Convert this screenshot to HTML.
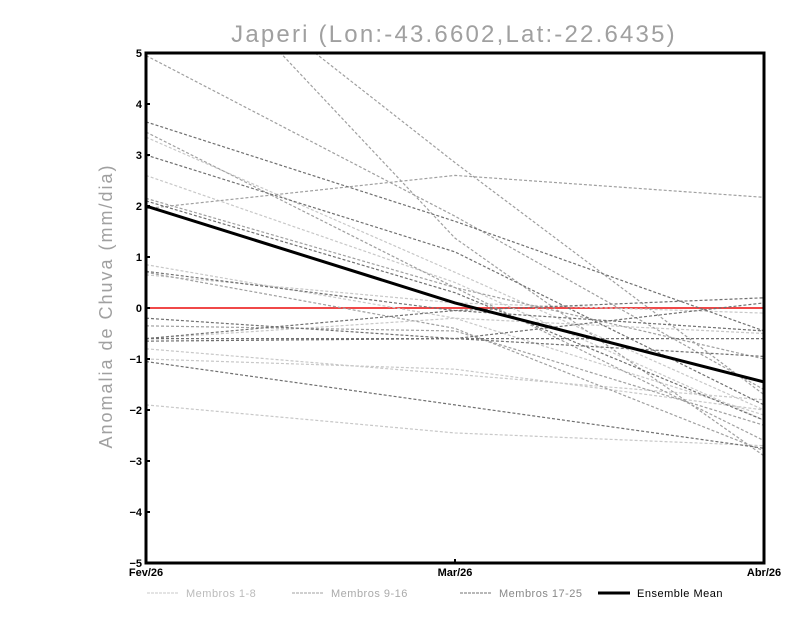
<!DOCTYPE html>
<html><head><meta charset="utf-8"><style>
body{margin:0;background:#fff;width:800px;height:618px;overflow:hidden}
svg{display:block}
</style></head><body>
<svg id="chart" width="800" height="618" font-family="Liberation Sans, sans-serif"></svg>
<script>
const categories=["Fev/26","Mar/26","Abr/26"];
const yTicks=[-5,-4,-3,-2,-1,0,1,2,3,4,5];
const g1=[[3.35,0.7,-2.0],[2.6,0.5,-2.2],[0.85,-0.2,-0.5],[-0.8,-1.3,-1.8],[-1.9,-2.45,-2.7],[0.65,0.1,-0.1],[-0.6,-0.2,-2.1],[-1.0,-1.2,-2.0]];
const g2=[[4.95,1.8,-1.6],[7.8,1.37,-2.9],[7.6,2.85,-1.7],[3.45,0.4,-2.6],[1.95,2.6,2.17],[-0.35,-0.45,-2.3],[0.7,-0.4,-2.8],[2.15,0.4,-1.0]];
const g3=[[3.65,1.7,-0.45],[3.0,1.1,-1.9],[0.72,-0.05,-0.45],[-0.6,-0.05,0.2],[-0.65,-0.6,-0.95],[-0.2,-0.6,0.1],[-1.05,-1.9,-2.75],[-0.6,-0.6,-0.6],[2.1,0.3,-2.2]];
const ensembleMean=[2.0,0.1,-1.45];
const NS="http://www.w3.org/2000/svg";
const svg=document.getElementById('chart');
const X0=146,X1=764,Y0=563,Y1=53;
const xs=i=>X0+(X1-X0)*i/(categories.length-1);
const ys=v=>Y0-(v+5)/10*(Y0-Y1);
function mk(tag,attrs,parent){const e=document.createElementNS(NS,tag);for(const k in attrs)e.setAttribute(k,attrs[k]);(parent||svg).appendChild(e);return e;}
const defs=mk('defs',{});const cp=mk('clipPath',{id:'clip'},defs);mk('rect',{x:X0,y:Y1,width:X1-X0,height:Y0-Y1},cp);
const title=mk('text',{x:454,y:42,'text-anchor':'middle','font-size':'24',fill:'#a0a0a0','letter-spacing':'2.2'});


title.textContent='Japeri (Lon:-43.6602,Lat:-22.6435)';
const yl=mk('text',{transform:'translate(112,306) rotate(-90)','text-anchor':'middle','font-size':'18',fill:'#a0a0a0','letter-spacing':'2'});


yl.textContent='Anomalia de Chuva (mm/dia)';
const plot=mk('g',{'clip-path':'url(#clip)'});


const zl=mk('line',{x1:X0,x2:X1,y1:ys(0),y2:ys(0),stroke:'#f04848','stroke-width':2},plot);


function series(arr,color,name){arr.forEach((s,k)=>{const p=mk('polyline',{points:s.map((v,i)=>xs(i)+','+ys(v)).join(' '),fill:'none',stroke:color,'stroke-width':1.2,'stroke-dasharray':'3,2'},plot);

});}
series(g1,'#c8c8c8','member-g1');
series(g2,'#a0a0a0','member-g2');
series(g3,'#707070','member-g3');
const m=mk('polyline',{points:ensembleMean.map((v,i)=>xs(i)+','+ys(v)).join(' '),fill:'none',stroke:'#000','stroke-width':3},plot);


const fr=mk('rect',{x:X0,y:Y1,width:X1-X0,height:Y0-Y1,fill:'none',stroke:'#000','stroke-width':3});


yTicks.forEach(v=>{mk('line',{x1:X0,x2:X0+4,y1:ys(v),y2:ys(v),stroke:'#000','stroke-width':2});
const t=mk('text',{x:X0-4,y:ys(v)+4,'text-anchor':'end','font-size':'11','font-weight':'bold'});


t.textContent=v<0?'\u2212'+(-v):String(v);});
categories.forEach((c,i)=>{mk('line',{x1:xs(i),x2:xs(i),y1:Y0,y2:Y0-4,stroke:'#000','stroke-width':2});
const t=mk('text',{x:xs(i),y:Y0+13,'text-anchor':'middle','font-size':'11','font-weight':'bold'});


t.textContent=c;});
const leg=[['Membros 1-8','#c8c8c8',1,'3,1',147,'#bbb'],['Membros 9-16','#a0a0a0',1,'3,1',292,'#aaa'],['Membros 17-25','#707070',1,'3,1',460,'#888'],['Ensemble Mean','#000',3,'',598,'#000']];
leg.forEach(l=>{const g=mk('g',{});


mk('line',{x1:l[4],x2:l[4]+32,y1:593,y2:593,stroke:l[1],'stroke-width':l[2],'stroke-dasharray':l[3]},g);
const t=mk('text',{x:l[4]+39,y:597,'font-size':'11',fill:l[5],'letter-spacing':'0.5'},g);t.textContent=l[0];});
</script>
</body></html>
